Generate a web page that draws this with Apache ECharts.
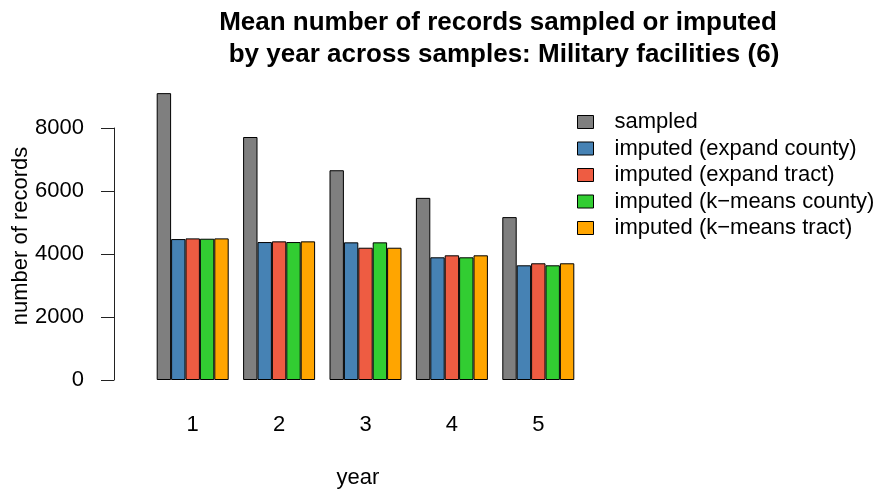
<!DOCTYPE html>
<html>
<head>
<meta charset="utf-8">
<script src="https://cdn.jsdelivr.net/npm/echarts@6/dist/echarts.min.js"></script>
<style>
html,body{margin:0;padding:0;background:#fff;}
#chart{width:881px;height:494px;}
</style>
</head>
<body>
<div id="chart"></div>
<script>
const years = ['1', '2', '3', '4', '5'];
const seriesNames = ['sampled', 'imputed (expand county)', 'imputed (expand tract)', 'imputed (k\u2212means county)', 'imputed (k\u2212means tract)'];
const sampled = [9107, 7714, 6659, 5782, 5171];
const expandCounty = [4474, 4379, 4370, 3895, 3641];
const expandTract = [4496, 4401, 4199, 3958, 3705];
const kmeansCounty = [4485, 4379, 4370, 3895, 3641];
const kmeansTract = [4496, 4401, 4199, 3958, 3705];
const yTicks = [0, 2000, 4000, 6000, 8000];
const colors = ['#7F7F7F', '#4682B4', '#EE5C42', '#32CD32', '#FFA500'];
const titleLines = ['Mean number of records sampled or imputed', 'by year across samples: Military facilities (6)'];
const xAxisTitle = 'year';
const yAxisTitle = 'number of records';

const FONT = '"Liberation Sans", Arial, Helvetica, sans-serif';
const allValues = [sampled, expandCounty, expandTract, kmeansCounty, kmeansTract];

const chart = echarts.init(document.getElementById('chart'));
chart.setOption({
  animation: false,
  backgroundColor: '#fff',
  textStyle: { fontFamily: FONT },
  grid: { left: 149.5, right: 299.5, top: 128, bottom: 114, containLabel: false },
  legend: {
    orient: 'vertical',
    left: 572,
    top: 106,
    itemWidth: 16,
    itemHeight: 13,
    itemGap: 4.5,
    icon: 'rect',
    selectedMode: false,
    textStyle: { fontFamily: FONT, fontSize: 22, color: '#000', lineHeight: 22, padding: [0, 0, 0, 16] },
    data: seriesNames.map((n, i) => ({ name: n, itemStyle: { color: colors[i], borderColor: '#000', borderWidth: 1 } }))
  },
  xAxis: {
    type: 'category',
    data: years,
    axisLine: { show: false },
    axisTick: { show: false },
    axisLabel: { fontFamily: FONT, fontSize: 22, color: '#000', margin: 34 },
    splitLine: { show: false }
  },
  yAxis: {
    type: 'value',
    min: yTicks[0],
    max: yTicks[yTicks.length - 1],
    interval: 2000,
    offset: 35.5,
    axisLine: { show: true, lineStyle: { color: '#222', width: 1 } },
    axisTick: { show: true, inside: false, length: 13, lineStyle: { color: '#222', width: 1 } },
    axisLabel: { fontFamily: FONT, fontSize: 22, color: '#000', margin: 30, formatter: v => String(v) },
    splitLine: { show: false }
  },
  graphic: [
    { type: 'text', x: 498, y: 23, style: { text: titleLines[0], font: 'bold 26px ' + FONT, fill: '#000', textAlign: 'center', textVerticalAlign: 'middle' } },
    { type: 'text', x: 504, y: 55, style: { text: titleLines[1], font: 'bold 26px ' + FONT, fill: '#000', textAlign: 'center', textVerticalAlign: 'middle' } },
    { type: 'text', x: 358, y: 478, style: { text: xAxisTitle, font: '22px ' + FONT, fill: '#000', textAlign: 'center', textVerticalAlign: 'middle' } },
    { type: 'text', x: 21, y: 236, rotation: Math.PI / 2, style: { text: yAxisTitle, font: '22px ' + FONT, fill: '#000', textAlign: 'center', textVerticalAlign: 'middle' } }
  ],
  series: seriesNames.map((n, i) => ({
    name: n,
    type: 'bar',
    data: allValues[i],
    clip: false,
    barGap: '0%',
    barCategoryGap: '16.6667%',
    itemStyle: { color: colors[i], borderColor: '#000', borderWidth: 1 },
    emphasis: { disabled: true }
  }))
});
</script>
</body>
</html>
